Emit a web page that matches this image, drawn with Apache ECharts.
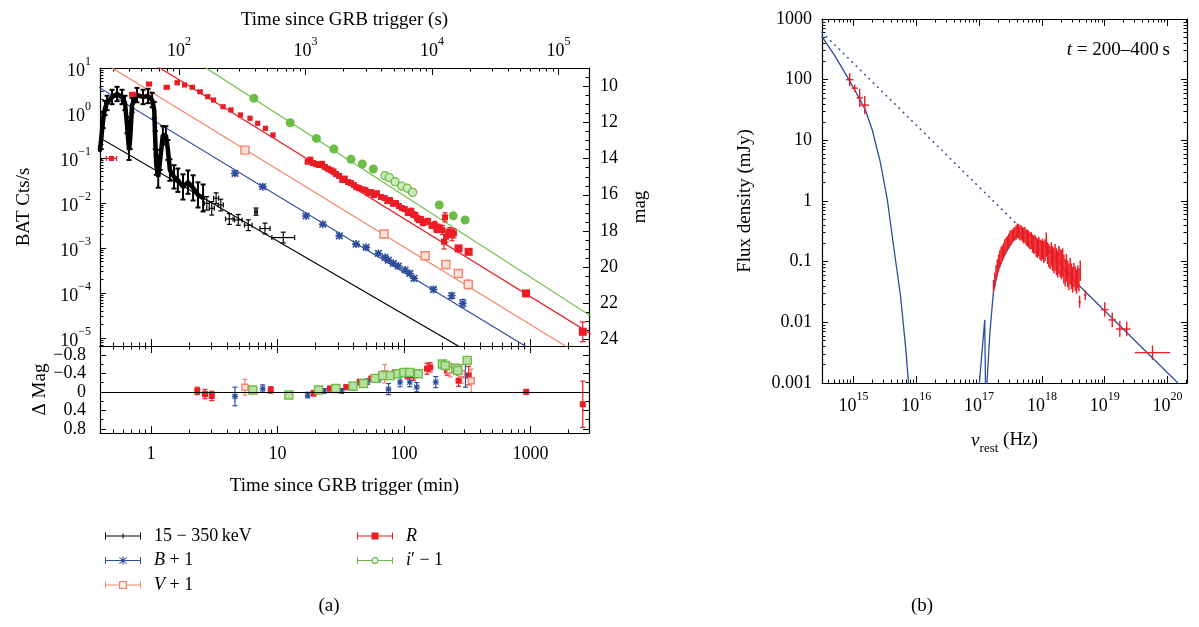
<!DOCTYPE html>
<html>
<head>
<meta charset="utf-8">
<script src="https://cdn.jsdelivr.net/npm/echarts@6.0.0/dist/echarts.min.js"></script>
<style>
  html, body { margin: 0; padding: 0; background: #fff; }
  #chart { width: 1199px; height: 627px; }
</style>
</head>
<body>
<div id="chart"></div>
<script>
const FONT = 'Liberation Serif';
const C_BAT = '#000000', C_B = '#2e4d9c', C_V = '#f5846c', C_R = '#ec1c24', C_I = '#6cbd45';

// ---------- light curve, time in minutes ----------
const batDenseT = [0.395,0.403,0.418,0.433,0.449,0.492,0.539,0.590,0.623,0.646,0.670,0.683,0.708,0.775,0.865,0.947,1.02,1.06,1.08,1.10,1.14,1.18,1.24,1.31,1.36,1.41,1.52,1.63,1.79,1.96,2.15,2.35,2.58];
const batDenseF = [0.151,0.25,0.70,1.29,1.67,2.27,2.64,2.27,1.67,0.54,0.15,0.25,1.5,2.5,2.27,2.39,1.94,1.16,0.25,0.070,0.038,0.090,0.32,0.32,0.15,0.054,0.038,0.032,0.0227,0.029,0.0216,0.0151,0.0129];
const batDenseErr = [0.22,0.2,0.18,0.16,0.16,0.16,0.16,0.16,0.16,0.18,0.22,0.2,0.16,0.16,0.16,0.16,0.16,0.18,0.2,0.22,0.24,0.22,0.2,0.2,0.22,0.24,0.26,0.26,0.28,0.26,0.28,0.28,0.3];
const batT = [2.76,3.02,3.27,3.56,4.16,4.90,5.87,6.76,7.96,11.1];
const batF = [0.0098,0.0076,0.0127,0.0090,0.0044,0.0042,0.0032,0.0064,0.0027,0.0017];
const batErr = [0.15,0.15,0.12,0.13,0.12,0.12,0.12,0.08,0.12,0.12];
const batTErr = [0.02,0.02,0.02,0.02,0.03,0.03,0.03,0.01,0.04,0.09];

const rEarlyT = [0.487,0.717,0.964,1.33,1.61,1.84,2.12,2.44,2.81,3.12,3.71,4.28,5.09,6.06,6.97,8.02,9.21];
const rEarlyMag = [13.98,10.42,9.85,10.03,9.78,9.90,10.03,10.28,10.55,10.74,11.11,11.29,11.57,11.75,12.03,12.31,12.68];
const rEarlyErr = [0.1,0.1,0.08,0.08,0.08,0.06,0.06,0.06,0.06,0.06,0.06,0.06,0.06,0.06,0.06,0.06,0.06];
const rEarlyTErr = [0.04,0.025,0.02,0.02,0.015,0.015,0.015,0.015,0.012,0.012,0.012,0.012,0.01,0.01,0.01,0.01,0.01];
const rT = [17.3,18.2,19.1,20.2,21.3,22.5,23.7,25.0,26.4,27.7,29.0,30.7,32.5,34.0,36.1,38.0,40.1,42.0,44.1,46.8,49.5,52.0,54.8,57.8,61.1,65.6,70.3,73.8,77.5,81.8,86.4,91.0,96.4,101.5,107,111,114,118,123,127,131,136,141,148,155,165,175,180,186,193,201,207,211,215,224,231,240,248];
const rMag = [14.17,14.05,14.24,14.30,14.35,14.28,14.46,14.55,14.63,14.70,14.85,14.95,15.18,15.10,15.29,15.35,15.46,15.58,15.63,15.70,15.74,15.90,15.85,16.02,15.92,16.12,16.18,16.35,16.29,16.50,16.46,16.62,16.74,16.80,17.02,16.95,16.90,17.10,17.13,17.30,17.40,17.35,17.57,17.50,17.46,17.72,17.68,17.90,17.85,17.88,17.96,18.61,17.25,18.33,18.10,18.07,18.25,18.14];
const rErr = [0.08,0.08,0.08,0.08,0.08,0.08,0.08,0.08,0.08,0.08,0.08,0.08,0.1,0.1,0.1,0.1,0.1,0.1,0.1,0.1,0.1,0.1,0.1,0.1,0.12,0.12,0.12,0.12,0.12,0.12,0.12,0.12,0.12,0.12,0.12,0.12,0.15,0.15,0.15,0.15,0.15,0.15,0.15,0.15,0.15,0.15,0.2,0.2,0.22,0.2,0.25,0.4,0.25,0.3,0.2,0.25,0.3,0.25];
const rLateT = [270,324,921,2588];
const rLateMag = [18.98,19.17,21.48,23.61];
const rLateErr = [0.1,0.12,0.06,0.55];

const bT = [4.61,7.64,16.8,22.8,30.8,41.8,50.1,62.7,70.8,75.2,82.3,90.2,102,111,120,171,238,291];
const bMag = [14.81,15.55,17.18,17.64,18.28,18.74,18.92,19.26,19.48,19.63,19.81,19.96,20.18,20.37,20.64,21.26,21.61,22.03];
const bErr = [0.12,0.08,0.06,0.06,0.06,0.06,0.06,0.08,0.08,0.08,0.1,0.1,0.1,0.1,0.1,0.12,0.15,0.22];

const vT = [5.53,69.5,147,214,269,322];
const vMag = [13.52,18.18,19.39,19.87,20.37,20.98];
const vErr = [0.1,0.12,0.12,0.12,0.12,0.25];

const iT = [6.50,12.6,20.3,27.9,38.1,46.8,57.2,190,245,304];
const iMag = [10.64,12.00,12.87,13.46,14.03,14.29,14.57,16.57,17.17,17.40];
const iErr = [0.05,0.05,0.05,0.05,0.05,0.05,0.05,0.06,0.06,0.06];
const iRingT = [70.8,76.5,84.9,95.9,106,117];
const iRingMag = [14.94,15.05,15.28,15.52,15.64,15.87];

// power-law fits, end points (clipped by the frame)
const batFitT = [0.3, 300], batFitF = [0.436, 5.5e-6];
const bFitT = [0.3, 1000], bFitMag = [9.56, 24.58];
const vFitT = [0.3, 3000], vFitMag = [8.03, 25.27];
const rFitT = [0.3, 3000], rFitMag = [6.39, 23.73];
const iFitT = [1, 3000], iFitMag = [6.99, 22.74];

// residuals (Delta mag)
const resRT = [2.32,2.67,3.02,8.84,19.3,26.0,34.9,44.6,55.1,83.7,106,119,152,161,219,270,324,925,2588];
const resRD = [-0.02,0.05,0.09,-0.04,0.03,-0.07,-0.10,-0.21,-0.28,-0.39,-0.36,-0.35,-0.50,-0.53,-0.46,-0.24,-0.35,0.0,0.27];
const resRE = [0.08,0.1,0.1,0.07,0.06,0.05,0.05,0.06,0.06,0.08,0.08,0.1,0.12,0.1,0.1,0.12,0.2,0.03,0.5];
const resBT = [4.61,7.64,17.3,23.4,32.1,51.3,63.2,75.4,93.0,111,126,178,306];
const resBD = [0.10,-0.07,0.07,-0.02,-0.02,-0.22,-0.29,-0.06,-0.21,-0.21,-0.10,-0.21,-0.35];
const resBE = [0.2,0.08,0.06,0.05,0.05,0.06,0.08,0.12,0.1,0.1,0.1,0.12,0.25];
const resVT = [5.53,70.3,231,285,340];
const resVD = [-0.10,-0.39,-0.47,-0.39,-0.24];
const resVE = [0.17,0.2,0.15,0.2,0.25];
const resIT = [6.37,12.3,21.1,28.9,39.5,47.9,59.0,67.9,78.1,89.7,99.6,111,130,201,212,256,266,316];
const resID = [-0.04,0.07,-0.04,-0.07,-0.12,-0.18,-0.29,-0.35,-0.35,-0.39,-0.42,-0.42,-0.39,-0.60,-0.57,-0.51,-0.46,-0.68];
const resIE = [0.03,0.04,0.05,0.05,0.05,0.05,0.05,0.06,0.06,0.06,0.06,0.06,0.06,0.06,0.06,0.08,0.08,0.06];

// ---------- SED, t = 200-400 s (log10 of Hz and mJy) ----------
const uvotLogNu = [14.94,15.02,15.10,15.18];
const uvotLogF = [2.0,1.86,1.70,1.58];
const uvotErr = [0.11,0.06,0.15,0.15];
const uvotNuErr = [0.06,0.05,0.05,0.07];
const xrayLogNu = [17.23,17.25,17.27,17.29,17.31,17.33,17.35,17.37,17.39,17.41,17.43,17.45,17.47,17.49,17.51,17.53,17.55,17.57,17.59,17.61,17.63,17.65,17.67,17.69,17.71,17.73,17.75,17.77,17.79,17.81,17.83,17.85,17.87,17.89,17.91,17.93,17.95,17.97,17.99,18.01,18.03,18.05,18.07,18.09,18.11,18.13,18.15,18.17,18.19,18.21,18.23,18.25,18.27,18.29,18.31,18.33,18.35,18.37,18.39,18.41,18.43,18.45,18.47,18.49,18.51,18.53,18.55,18.57,18.59,18.61];
const xrayLogF = [-1.40,-1.30,-1.18,-1.10,-1.02,-0.95,-0.90,-0.86,-0.82,-0.76,-0.72,-0.70,-0.66,-0.62,-0.60,-0.58,-0.55,-0.54,-0.52,-0.49,-0.50,-0.53,-0.52,-0.55,-0.57,-0.56,-0.60,-0.61,-0.63,-0.66,-0.65,-0.70,-0.72,-0.71,-0.76,-0.78,-0.75,-0.80,-0.82,-0.79,-0.84,-0.81,-0.72,-0.86,-0.90,-0.93,-0.88,-0.95,-0.98,-0.93,-1.00,-1.04,-0.97,-1.02,-1.05,-1.02,-1.12,-1.18,-1.10,-1.20,-1.25,-1.16,-1.24,-1.30,-1.22,-1.28,-1.33,-1.25,-1.30,-1.15];
const xrayErr = [0.1,0.12,0.12,0.14,0.14,0.14,0.14,0.13,0.13,0.13,0.12,0.12,0.12,0.12,0.12,0.11,0.11,0.11,0.12,0.12,0.12,0.12,0.12,0.12,0.13,0.13,0.13,0.14,0.14,0.14,0.14,0.15,0.15,0.15,0.16,0.16,0.16,0.17,0.17,0.17,0.18,0.18,0.2,0.18,0.19,0.19,0.2,0.2,0.21,0.22,0.22,0.22,0.23,0.23,0.24,0.24,0.24,0.23,0.23,0.22,0.22,0.22,0.21,0.21,0.2,0.2,0.2,0.19,0.19,0.17];
const hardLogNu = [18.60,18.69,19.00,19.12,19.24,19.35,19.76];
const hardLogF = [-1.66,-1.55,-1.79,-1.96,-2.11,-2.11,-2.50];
const hardErr = [0.1,0.08,0.12,0.12,0.13,0.12,0.12];
const hardNuErr = [0.02,0.02,0.06,0.06,0.06,0.06,0.28];
const plLogNu = [14.5, 17.6], plLogF = [2.78, -0.38];
const modOptLogNu = [14.50,14.70,14.90,15.10,15.19,15.30,15.43,15.54,15.64,15.75,15.83,15.90];
const modOptLogF = [2.71,2.40,2.05,1.68,1.50,1.17,0.63,0.02,-0.75,-1.57,-2.40,-3.3];
const modXLogNu = [16.98,17.09,17.105,17.12,17.17,17.23,17.31,17.40,17.50,17.60,17.70,17.80,17.95,18.10,18.30,18.58,20.4];
const modXLogF = [-3.3,-1.96,-3.3,-3.1,-2.2,-1.48,-1.12,-0.90,-0.72,-0.56,-0.52,-0.55,-0.65,-0.80,-1.05,-1.38,-3.24];

// ---------- axes ----------
const tRange = [0.395, 2900];
const batRange = [6.6e-6, 10];
const magRange = [8.96, 24.40];
const dMagRange = [-0.99, 0.89];
const nuRange = [3.16e14, 2.04e20];
const fluxRange = [1e-3, 1e3];
const minTicks = [1, 10, 100, 1000], minLabels = ['1', '10', '100', '1000'];
const secTicks = [1e2, 1e3, 1e4, 1e5];
const batTicks = [1e-5, 1e-4, 1e-3, 1e-2, 1e-1, 1, 10];
const magTicks = [10, 12, 14, 16, 18, 20, 22, 24];
const dMagTicks = [-0.8, -0.4, 0, 0.4, 0.8], dMagLabels = ['\u22120.8', '\u22120.4', '0', '0.4', '0.8'];
const nuTicks = [1e15, 1e16, 1e17, 1e18, 1e19, 1e20];
const fluxTicks = [1e-3, 1e-2, 1e-1, 1, 10, 100, 1000], fluxLabels = ['0.001', '0.01', '0.1', '1', '10', '100', '1000'];

const LG = Math.log10;
const lg = a => a.map(LG);
const pairs = (a, b) => a.map((v, k) => [v, b[k]]);

function logMinor(lo, hi) {
  const out = [];
  for (let e = Math.floor(lo); e < hi; e++) {
    for (let k = 2; k < 10; k++) { const v = e + LG(k); if (v > lo && v < hi) out.push(v); }
  }
  return out;
}
function linMinor(lo, hi, step, major) {
  const out = [];
  for (let k = Math.ceil(lo / step); k * step <= hi; k++) {
    const v = +(k * step).toFixed(4);
    const q = v / major;
    if (Math.abs(q - Math.round(q)) > 1e-6) out.push(v);
  }
  return out;
}

const RICH = {
  b: { fontFamily: FONT, fontSize: 18, lineHeight: 24, verticalAlign: 'bottom', color: '#000' },
  s: { fontFamily: FONT, fontSize: 12, lineHeight: 12, verticalAlign: 'top', color: '#000' }
};
const sup = v => { const e = Math.round(v); return '{b|10}{s|' + (e < 0 ? '\u2212' + (-e) : e) + '}'; };

function mkAxis(grid, pos, lo, hi, o) {
  const minor = !!o.minor;
  const vert = pos === 'left' || pos === 'right';
  const a = {
    type: 'value', gridIndex: grid, position: pos, min: lo, max: hi, inverse: !!o.inverse,
    axisLine: { show: !minor, onZero: false, lineStyle: { color: '#000', width: 1.2 } },
    axisTick: { show: true, inside: true, length: minor ? 3.5 : (vert ? 6 : 7), customValues: o.ticks,
      lineStyle: { color: '#000', width: 1 } },
    axisLabel: o.fmt ? { show: true, customValues: o.ticks, formatter: o.fmt, margin: o.margin || 10,
      color: '#000', fontFamily: FONT, fontSize: 18, rich: RICH } : { show: false },
    splitLine: { show: false },
    axisPointer: { show: false }
  };
  if (o.name) {
    a.name = o.name; a.nameLocation = 'middle'; a.nameGap = o.nameGap;
    if (vert) a.nameRotate = 90;
    a.nameTextStyle = { fontFamily: FONT, fontSize: 19, color: '#000', rich: o.nameRich || {} };
  }
  return a;
}

const X0 = LG(tRange[0]), X1 = LG(tRange[1]);
const S0 = X0 + LG(60), S1 = X1 + LG(60);
const Y0 = LG(batRange[0]), Y1 = LG(batRange[1]);
const N0 = LG(nuRange[0]), N1 = LG(nuRange[1]);
const F0 = LG(fluxRange[0]), F1 = LG(fluxRange[1]);

const xAxis = [
  mkAxis(0, 'bottom', X0, X1, { ticks: lg(minTicks) }),
  mkAxis(0, 'bottom', X0, X1, { ticks: logMinor(X0, X1), minor: true }),
  mkAxis(0, 'top', S0, S1, { ticks: lg(secTicks), fmt: sup, margin: 8, name: 'Time since GRB trigger (s)', nameGap: 38 }),
  mkAxis(0, 'top', S0, S1, { ticks: logMinor(S0, S1), minor: true }),
  mkAxis(1, 'bottom', X0, X1, { ticks: lg(minTicks), fmt: v => minLabels[Math.round(v)], margin: 12,
    name: 'Time since GRB trigger (min)', nameGap: 44 }),
  mkAxis(1, 'bottom', X0, X1, { ticks: logMinor(X0, X1), minor: true }),
  mkAxis(1, 'top', X0, X1, { ticks: lg(minTicks) }),
  mkAxis(1, 'top', X0, X1, { ticks: logMinor(X0, X1), minor: true }),
  mkAxis(2, 'bottom', N0, N1, { ticks: lg(nuTicks), fmt: sup, margin: 8,
    name: '{it|\u03bd}{sub|rest} {n|(Hz)}', nameGap: 48,
    nameRich: {
      it: { fontFamily: FONT, fontSize: 19, fontStyle: 'italic', lineHeight: 24, verticalAlign: 'top' },
      sub: { fontFamily: FONT, fontSize: 13, lineHeight: 13, verticalAlign: 'bottom' },
      n: { fontFamily: FONT, fontSize: 19, lineHeight: 24, verticalAlign: 'top' }
    } }),
  mkAxis(2, 'bottom', N0, N1, { ticks: logMinor(N0, N1), minor: true }),
  mkAxis(2, 'top', N0, N1, { ticks: lg(nuTicks) }),
  mkAxis(2, 'top', N0, N1, { ticks: logMinor(N0, N1), minor: true })
];

const yAxis = [
  mkAxis(0, 'left', Y0, Y1, { ticks: lg(batTicks), fmt: sup, margin: 9, name: 'BAT Cts/s', nameGap: 66 }),
  mkAxis(0, 'left', Y0, Y1, { ticks: logMinor(Y0, Y1), minor: true }),
  mkAxis(0, 'right', magRange[0], magRange[1], { inverse: true, ticks: magTicks, fmt: v => String(v), margin: 11,
    name: 'mag', nameGap: 42 }),
  mkAxis(0, 'right', magRange[0], magRange[1], { inverse: true, ticks: linMinor(magRange[0], magRange[1], 0.5, 2), minor: true }),
  mkAxis(1, 'left', dMagRange[0], dMagRange[1], { inverse: true, ticks: dMagTicks,
    fmt: v => dMagLabels[dMagTicks.indexOf(v)], margin: 14, name: '\u0394 Mag', nameGap: 50 }),
  mkAxis(1, 'left', dMagRange[0], dMagRange[1], { inverse: true, ticks: linMinor(dMagRange[0], dMagRange[1], 0.2, 0.4), minor: true }),
  mkAxis(1, 'right', dMagRange[0], dMagRange[1], { inverse: true, ticks: dMagTicks }),
  mkAxis(1, 'right', dMagRange[0], dMagRange[1], { inverse: true, ticks: linMinor(dMagRange[0], dMagRange[1], 0.2, 0.4), minor: true }),
  mkAxis(2, 'left', F0, F1, { ticks: lg(fluxTicks), fmt: v => fluxLabels[Math.round(v) + 3], margin: 10,
    name: 'Flux density (mJy)', nameGap: 67 }),
  mkAxis(2, 'left', F0, F1, { ticks: logMinor(F0, F1), minor: true }),
  mkAxis(2, 'right', F0, F1, { ticks: lg(fluxTicks) }),
  mkAxis(2, 'right', F0, F1, { ticks: logMinor(F0, F1), minor: true })
];

// ---------- series helpers ----------
function errData(x, y, ey, ex) {
  return x.map((xv, k) => {
    const e = ey ? ey[k] : 0, h = ex ? ex[k] : 0;
    return [xv, y[k], y[k] - e, y[k] + e, xv - h, xv + h];
  });
}
function errItem(cap, width) {
  return function (params, api) {
    const x = api.value(0), y = api.value(1);
    const st = { stroke: api.visual('color'), lineWidth: width };
    const kids = [];
    const seg = (a, b) => kids.push({ type: 'line', shape: { x1: a[0], y1: a[1], x2: b[0], y2: b[1] }, style: st });
    const lo = api.value(2), hi = api.value(3);
    if (hi !== lo) {
      const a = api.coord([x, lo]), b = api.coord([x, hi]);
      seg(a, b);
      if (cap) { seg([a[0] - cap, a[1]], [a[0] + cap, a[1]]); seg([b[0] - cap, b[1]], [b[0] + cap, b[1]]); }
    }
    const l = api.value(4), r = api.value(5);
    if (r !== l) {
      const a = api.coord([l, y]), b = api.coord([r, y]);
      seg(a, b);
      if (cap) { seg([a[0], a[1] - cap], [a[0], a[1] + cap]); seg([b[0], b[1] - cap], [b[0], b[1] + cap]); }
    }
    return { type: 'group', children: kids };
  };
}
function errSeries(name, xi, yi, data, color, cap, width) {
  return { type: 'custom', name, xAxisIndex: xi, yAxisIndex: yi, data, renderItem: errItem(cap, width || 1),
    itemStyle: { color }, encode: { x: 0, y: 1 }, clip: true, silent: true, z: 3 };
}
function dotSeries(name, xi, yi, data, symbol, size, color, fill) {
  return { type: 'scatter', name, xAxisIndex: xi, yAxisIndex: yi, data, symbol, symbolSize: size,
    itemStyle: { color: fill || color, borderColor: color, borderWidth: fill ? 1.4 : 0, opacity: 1 },
    clip: true, silent: true, z: 4 };
}
function lineSeries(name, xi, yi, data, color, width, type) {
  return { type: 'line', name, xAxisIndex: xi, yAxisIndex: yi, data, symbol: 'none',
    lineStyle: { color, width, type: type || 'solid', cap: 'round' }, clip: true, silent: true, z: 2 };
}

const STAR = 'path://M4.0 0H6.0V10H4.0Z M0 4.0H10V6.0H0Z M1.6 0.2L9.8 8.4L8.4 9.8L0.2 1.6Z M8.4 0.2L9.8 1.6L1.6 9.8L0.2 8.4Z';

const series = [
  lineSeries('fitBAT', 0, 0, pairs(lg(batFitT), lg(batFitF)), C_BAT, 1.2),
  lineSeries('fitB', 0, 2, pairs(lg(bFitT), bFitMag), C_B, 1.2),
  lineSeries('fitV', 0, 2, pairs(lg(vFitT), vFitMag), C_V, 1.2),
  lineSeries('fitR', 0, 2, pairs(lg(rFitT), rFitMag), C_R, 1.2),
  lineSeries('fitI', 0, 2, pairs(lg(iFitT), iFitMag), C_I, 1.2),

  lineSeries('batDense', 0, 0, pairs(lg(batDenseT), lg(batDenseF)), C_BAT, 4.5),
  errSeries('batDenseErr', 0, 0, errData(lg(batDenseT), lg(batDenseF), batDenseErr), C_BAT, 2.5, 2),
  errSeries('15 \u2212 350 keV', 0, 0, errData(lg(batT), lg(batF), batErr, batTErr), C_BAT, 2.5, 1.2),

  errSeries('R', 0, 2, errData(lg(rEarlyT), rEarlyMag, rEarlyErr, rEarlyTErr), C_R, 2.5, 1.2),
  errSeries('rClusterErr', 0, 2, errData(lg(rT), rMag, rErr), C_R, 2.5, 1.2),
  errSeries('rLateErr', 0, 2, errData(lg(rLateT), rLateMag, rLateErr), C_R, 3, 1.2),
  dotSeries('rEarlyDot', 0, 2, pairs(lg(rEarlyT), rEarlyMag), 'rect', 5, C_R),
  dotSeries('rDot', 0, 2, pairs(lg(rT), rMag), 'rect', 6, C_R),
  dotSeries('rLateDot', 0, 2, pairs(lg(rLateT), rLateMag), 'rect', 8, C_R),

  errSeries('B + 1', 0, 2, errData(lg(bT), bMag, bErr), C_B, 2.5, 1.2),
  dotSeries('bDot', 0, 2, pairs(lg(bT), bMag), STAR, 8, C_B),
  errSeries('V + 1', 0, 2, errData(lg(vT), vMag, vErr), C_V, 2.5, 1.2),
  dotSeries('vDot', 0, 2, pairs(lg(vT), vMag), 'rect', 8, C_V, '#fde3dc'),
  errSeries('i\u2032 \u2212 1', 0, 2, errData(lg(iT), iMag, iErr), C_I, 2, 1),
  dotSeries('iDot', 0, 2, pairs(lg(iT), iMag), 'circle', 9, C_I),
  dotSeries('iRing', 0, 2, pairs(lg(iRingT), iRingMag), 'circle', 8, C_I, '#cfeabf'),

  // residuals
  errSeries('resRErr', 4, 4, errData(lg(resRT), resRD, resRE), C_R, 2.5, 1.2),
  errSeries('resBErr', 4, 4, errData(lg(resBT), resBD, resBE), C_B, 2.5, 1.2),
  errSeries('resVErr', 4, 4, errData(lg(resVT), resVD, resVE), C_V, 2.5, 1.2),
  errSeries('resIErr', 4, 4, errData(lg(resIT), resID, resIE), C_I, 2.5, 1.2),
  Object.assign(dotSeries('resRDot', 4, 4, pairs(lg(resRT), resRD), 'rect', 6, C_R), {
    markLine: { silent: true, symbol: 'none', animation: false, label: { show: false },
      lineStyle: { color: '#000', width: 1.2, type: 'solid' }, data: [{ yAxis: 0 }] }
  }),
  dotSeries('resBDot', 4, 4, pairs(lg(resBT), resBD), STAR, 6, C_B),
  dotSeries('resVDot', 4, 4, pairs(lg(resVT), resVD), 'rect', 6, C_V, '#fde3dc'),
  dotSeries('resIDot', 4, 4, pairs(lg(resIT), resID), 'rect', 8, C_I, '#b9e0a4'),

  // SED
  lineSeries('powerlaw', 8, 8, pairs(plLogNu, plLogF), C_B, 1.6, [0.5, 5.5]),
  lineSeries('modelOpt', 8, 8, pairs(modOptLogNu, modOptLogF), C_B, 1.3),
  lineSeries('modelX', 8, 8, pairs(modXLogNu, modXLogF), C_B, 1.3),
  errSeries('uvot', 8, 8, errData(uvotLogNu, uvotLogF, uvotErr, uvotNuErr), C_R, 0, 1.4),
  errSeries('xrt', 8, 8, errData(xrayLogNu, xrayLogF, xrayErr), C_R, 0, 1.5),
  errSeries('bat', 8, 8, errData(hardLogNu, hardLogF, hardErr, hardNuErr), C_R, 0, 1.4)
];

// legend icons: error bar with caps and the band marker
const L = 'M0 4H36V5H0Z ';
const CAPS = 'M0 1H1V8H0Z M35 1H36V8H35Z ';
const ICON_BAT = 'path://' + L + CAPS + 'M17.5 2H18.5V7H17.5Z';
const ICON_B = 'path://' + L + CAPS + 'M17.4 0.5H18.6V8.5H17.4Z M14 3.9H22V5.1H14Z M14.6 1.0L21.9 7.3L21.4 8.0L14.1 1.7Z M21.4 1.0L21.9 1.7L14.6 8.0L14.1 7.3Z';
const ICON_V = 'path://M0 4H14V5H0Z M22 4H36V5H22Z ' + CAPS + 'M14 0.5H22V8.5H14Z M15.3 1.8V7.2H20.7V1.8Z';
const ICON_R = 'path://' + L + CAPS + 'M14.5 1H21.5V8H14.5Z';
const ICON_I = 'path://M0 4H14.5V5H0Z M21.5 4H36V5H21.5Z ' + CAPS + 'M14.5 4.5A3.5 3.5 0 1 1 21.5 4.5A3.5 3.5 0 1 1 14.5 4.5Z M15.8 4.5A2.2 2.2 0 1 0 20.2 4.5A2.2 2.2 0 1 0 15.8 4.5Z';
const legendText = {
  '15 \u2212 350 keV': '15 \u2212 350\u2009keV',
  'B + 1': '{i|B} + 1',
  'V + 1': '{i|V} + 1',
  'R': '{i|R}',
  'i\u2032 \u2212 1': '{i|i}\u2032 \u2212 1'
};
const legendBase = {
  orient: 'vertical', itemWidth: 36, itemHeight: 9, itemGap: 4.5, selectedMode: false,
  formatter: n => legendText[n],
  textStyle: { fontFamily: FONT, fontSize: 18, color: '#000', lineHeight: 20, padding: [0, 0, 0, 8],
    rich: { i: { fontFamily: FONT, fontSize: 18, fontStyle: 'italic', color: '#000' } } }
};

const chart = echarts.init(document.getElementById('chart'), null, { renderer: 'canvas' });
chart.setOption({
  animation: false,
  backgroundColor: '#fff',
  textStyle: { fontFamily: FONT },
  grid: [
    { left: 100, top: 68, width: 489, height: 278, show: false, outerBoundsMode: 'none' },
    { left: 100, top: 346, width: 489, height: 87, show: false, outerBoundsMode: 'none' },
    { left: 822, top: 19, width: 365, height: 364, show: false, outerBoundsMode: 'none' }
  ],
  xAxis,
  yAxis,
  legend: [
    Object.assign({ left: 100, top: 521, data: [
      { name: '15 \u2212 350 keV', icon: ICON_BAT },
      { name: 'B + 1', icon: ICON_B },
      { name: 'V + 1', icon: ICON_V }
    ] }, legendBase),
    Object.assign({ left: 352, top: 521, data: [
      { name: 'R', icon: ICON_R },
      { name: 'i\u2032 \u2212 1', icon: ICON_I }
    ] }, legendBase)
  ],
  graphic: [
    { type: 'text', x: 329, y: 606, style: { text: '(a)', fontFamily: FONT, fontSize: 19, fill: '#000', align: 'center', verticalAlign: 'middle' } },
    { type: 'text', x: 922, y: 606, style: { text: '(b)', fontFamily: FONT, fontSize: 19, fill: '#000', align: 'center', verticalAlign: 'middle' } },
    { type: 'text', x: 1170, y: 50, style: { text: '{i|t} = 200\u2013400\u2009s', fontFamily: FONT, fontSize: 19, fill: '#000',
      align: 'right', verticalAlign: 'middle',
      rich: { i: { fontFamily: FONT, fontSize: 19, fontStyle: 'italic', fill: '#000' } } } }
  ],
  series
});
</script>
</body>
</html>
